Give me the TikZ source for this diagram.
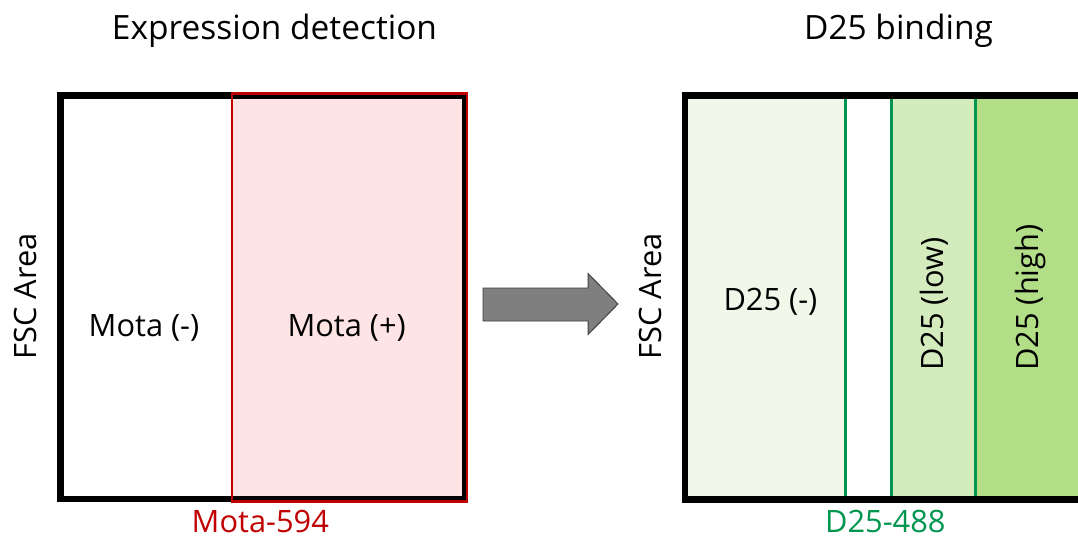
\documentclass[tikz,border=0pt]{standalone}
\usepackage{fontspec}
\setmainfont{Open Sans}
\usetikzlibrary{positioning}
\definecolor{motared}{RGB}{192,0,0}
\definecolor{motapink}{RGB}{255,228,230}
\definecolor{dgreen}{RGB}{0,150,80}
\definecolor{gpale}{RGB}{241,248,234}
\definecolor{glight}{RGB}{211,235,189}
\definecolor{gmid}{RGB}{179,222,136}
\definecolor{arrowgray}{RGB}{127,127,127}

\begin{document}
\begin{tikzpicture}[
  x=0.025cm, y=-0.025cm,
  title/.style={font=\fontsize{23.8}{26}\selectfont, anchor=base, inner sep=0pt},
  lbl/.style={font=\fontsize{21.9}{24}\selectfont, anchor=base, inner sep=0pt},
  axis/.style={lbl, rotate=90},
  frame/.style={draw=black, line width=4.6pt},
  gate/.style={draw=dgreen, line width=1.7pt}
]
\clip (0,0) rectangle (1078,540);
\fill[white] (0,0) rectangle (1078,540);

% Expression detection panel
\fill[motapink] (232,94) rectangle (466,500);
\draw[frame] (60.5,95.5) rectangle (465,499);
\draw[draw=motared, line width=1.8pt] (231.8,93.3) rectangle (467,501.5);

\node[title] (exptitle) at (274.5,39) {Expression detection};
\node[axis] (fscL) at (36.7,296.5) {FSC Area};
\node[lbl] (motaneg) at (144,336.7) {Mota (-)};
\node[lbl] (motapos) at (346.7,336.7) {Mota (+)};
\node[lbl, text=motared] (motaax) at (260.3,532) {Mota-594};

% block arrow between panels
\filldraw[fill=arrowgray, draw=black!75, line width=0.7pt]
  (483,288) -- (588,288) -- (588,273.5) -- (618,304) -- (588,334.5)
  -- (588,321) -- (483,321) -- cycle;

% D25 binding panel
\fill[gpale] (685,95.5) rectangle (845.5,499.3);
\fill[glight] (891.5,95.5) rectangle (975.5,499.3);
\fill[gmid] (975.5,95.5) rectangle (1100,499.3);
\draw[gate] (845.5,95.5) -- (845.5,499.3);
\draw[gate] (891.5,95.5) -- (891.5,499.3);
\draw[gate, line width=2.5pt] (975.5,95.5) -- (975.5,499.3);
\draw[frame] (685,95.7) rectangle (1110,499.3);

\node[title] (bindtitle) at (898.5,39) {D25 binding};
\node[axis] (fscR) at (661.7,296.5) {FSC Area};
\node[lbl] (dneg) at (770.4,310) {D25 (-)};
\node[lbl, rotate=90] (dlow) at (943.3,304) {D25 (low)};
\node[lbl, rotate=90] (dhigh) at (1038.3,297.5) {D25 (high)};
\node[lbl, text=dgreen] (dax) at (885.3,532) {D25-488};

\end{tikzpicture}
\end{document}
